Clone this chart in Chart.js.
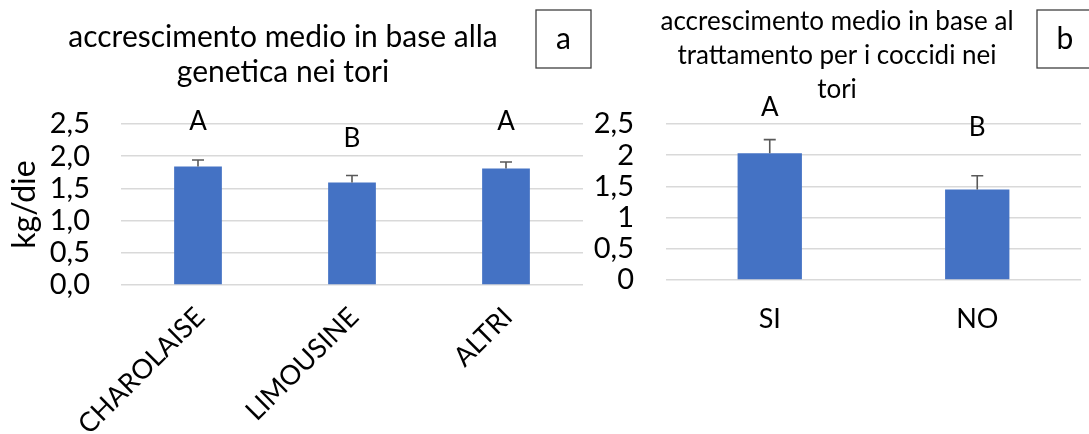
<!DOCTYPE html>
<html>
<head>
<meta charset="utf-8">
<script src="https://cdn.jsdelivr.net/npm/chart.js@4/dist/chart.umd.min.js"></script>
<style>
  html, body { margin: 0; padding: 0; background: #ffffff; }
  #wrap { position: relative; width: 1089px; height: 434px; overflow: hidden; background: #fff; }
  .box { position: absolute; top: 0; }
  #boxA { left: 0; width: 600px; height: 434px; }
  #boxB { left: 560px; width: 529px; height: 434px; }
</style>
</head>
<body>
<div id="wrap">
  <div class="box" id="boxA"><canvas id="chartA" width="600" height="434"></canvas></div>
  <div class="box" id="boxB"><canvas id="chartB" width="529" height="434"></canvas></div>
</div>
<script>
// ---- data: chart a (genetica) ----
const categoriesA = ['CHAROLAISE', 'LIMOUSINE', 'ALTRI'];
const valuesA = [1.84, 1.59, 1.81];
const errorsA = [0.10, 0.11, 0.10];
const lettersA = ['A', 'B', 'A'];
const titleA = ['accrescimento medio in base alla', 'genetica nei tori'];
const axisTitleA = 'kg/die';
const panelA = 'a';

// ---- data: chart b (trattamento coccidi) ----
const categoriesB = ['SI', 'NO'];
const valuesB = [2.03, 1.45];
const errorsB = [0.22, 0.22];
const lettersB = ['A', 'B'];
const titleB = ['accrescimento medio in base al', 'trattamento per i coccidi nei', 'tori'];
const panelB = 'b';

// y tick settings
const yMin = 0, yMax = 2.5, yStep = 0.5;

const FONT = 'Lato, "Open Sans", sans-serif';
const BAR = '#4472C4';
const GRID = '#d9d9d9';
const TXT = '#000000';

const deco = {
  id: 'deco',
  afterDatasetsDraw(chart, args, o) {
    const ctx = chart.ctx;
    const ys = chart.scales.y;
    const meta = chart.getDatasetMeta(0);
    const vals = chart.data.datasets[0].data;
    ctx.save();
    // error bars + letters
    meta.data.forEach((el, i) => {
      const top = ys.getPixelForValue(vals[i] + o.errors[i]);
      ctx.strokeStyle = '#595959';
      ctx.lineWidth = 1.6;
      ctx.beginPath();
      ctx.moveTo(el.x, el.y);
      ctx.lineTo(el.x, top);
      ctx.moveTo(el.x - 6, top);
      ctx.lineTo(el.x + 6, top);
      ctx.stroke();
      ctx.fillStyle = TXT;
      ctx.font = o.letterFont;
      ctx.textAlign = 'center';
      ctx.textBaseline = 'middle';
      ctx.fillText(o.letters[i], el.x, top - o.letterOffsets[i]);
    });
    // title
    ctx.fillStyle = TXT;
    ctx.font = o.titleFont;
    ctx.textAlign = 'center';
    ctx.textBaseline = 'middle';
    o.title.forEach((line, i) => ctx.fillText(line, o.titleX, o.titleY + i * o.titleLH));
    // panel box
    ctx.strokeStyle = '#404040';
    ctx.lineWidth = 1.3;
    ctx.strokeRect(o.box[0], o.box[1], o.box[2], o.box[3]);
    ctx.font = o.panelFont;
    ctx.fillText(o.panel, o.box[0] + o.box[2] / 2, o.box[1] + o.box[3] / 2);
    ctx.restore();
  }
};

function fmtA(v) { return Number(v).toFixed(1).replace('.', ','); }
function fmtB(v) { return String(Math.round(v * 10) / 10).replace('.', ','); }

function makeChart(id, cats, vals, opts) {
  return new Chart(document.getElementById(id), {
    type: 'bar',
    data: {
      labels: cats,
      datasets: [{
        data: vals,
        backgroundColor: BAR,
        borderWidth: 0,
        categoryPercentage: 1,
        barPercentage: opts.barPct
      }]
    },
    options: {
      responsive: false,
      animation: false,
      devicePixelRatio: 1,
      layout: { padding: { top: opts.padTop, right: opts.padRight, left: 0, bottom: 0 } },
      plugins: {
        legend: { display: false },
        title: { display: false },
        tooltip: { enabled: false },
        deco: opts.deco
      },
      scales: {
        x: {
          grid: { display: false, drawTicks: false },
          border: { display: false },
          ticks: {
            color: TXT,
            font: { family: FONT, size: 27 },
            minRotation: opts.rot, maxRotation: opts.rot,
            padding: opts.xPad,
            labelOffset: opts.labelOffset,
            autoSkip: false
          },
          afterFit(s) { s.height = opts.xHeight; }
        },
        y: {
          min: yMin, max: yMax,
          grid: { color: GRID, lineWidth: 1.5, drawTicks: false },
          border: { display: false },
          ticks: {
            stepSize: yStep,
            autoSkip: false,
            color: TXT,
            font: { family: FONT, size: 29 },
            padding: opts.yPad,
            callback: opts.fmt
          },
          title: opts.yTitle,
          afterFit(s) { s.width = opts.yWidth; }
        }
      }
    },
    plugins: [deco]
  });
}

makeChart('chartA', categoriesA, valuesA, {
  barPct: 0.31, padTop: 124, padRight: 17, rot: 45, xPad: 16, labelOffset: 2,
  xHeight: 149, yWidth: 121, yPad: 31, fmt: fmtA,
  yTitle: { display: true, text: axisTitleA, color: TXT, font: { family: FONT, size: 32 }, padding: { top: 5, bottom: 0 } },
  deco: {
    errors: errorsA, letters: lettersA, letterOffsets: [38, 37, 40],
    letterFont: '26px ' + FONT,
    title: titleA, titleX: 283, titleY: 37, titleLH: 35, titleFont: '30px ' + FONT,
    box: [536, 10, 55, 58], panel: panelA, panelFont: '30px ' + FONT
  }
});

makeChart('chartB', categoriesB, valuesB, {
  barPct: 0.31, padTop: 124, padRight: 8, rot: 0, xPad: 23, labelOffset: 0,
  xHeight: 154, yWidth: 106, yPad: 32, fmt: fmtB,
  yTitle: { display: false },
  deco: {
    errors: errorsB, letters: lettersB, letterOffsets: [32, 48],
    letterFont: '26px ' + FONT,
    title: titleB, titleX: 277, titleY: 22, titleLH: 34, titleFont: '26px ' + FONT,
    box: [477, 10, 56, 58], panel: panelB, panelFont: '30px ' + FONT
  }
});
</script>
</body>
</html>
